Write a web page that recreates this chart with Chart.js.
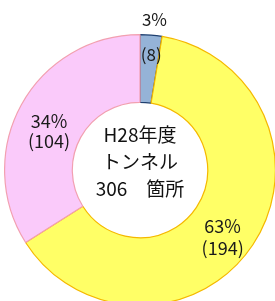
<!DOCTYPE html>
<html><head><meta charset="utf-8">
<script src="https://cdn.jsdelivr.net/npm/chart.js@4/dist/chart.umd.min.js"></script>
<style>
html,body{margin:0;padding:0;background:#fff;overflow:hidden;width:275px;height:301px;}
#wrap{position:absolute;left:4px;top:0px;width:272px;height:306px;}
</style></head><body>
<div id="wrap"><canvas id="c"></canvas></div>
<script>
const categories = ["A", "B", "C"];
const counts = [8, 194, 104];
const percents = ["3%", "63%", "34%"];
const centerLines = ["H28年度", "トンネル", "306\u3000箇所"];

const fills = ["#95B3D7", "#FFFF66", "#FACAFA"];
const borders = ["#1F3F6F", "#F5B800", "#F2A0B0"];
const FONT = '"Noto Sans CJK JP", "Noto Sans", sans-serif';

const labelPlugin = {
  id: 'lbl',
  afterDatasetsDraw(chart) {
    const ctx = chart.ctx;
    const meta = chart.getDatasetMeta(0);
    ctx.save();
    ctx.fillStyle = '#1a1a1a';
    ctx.textAlign = 'center';
    ctx.textBaseline = 'middle';
    ctx.font = '17px ' + FONT;
    meta.data.forEach((arc, i) => {
      const p = arc.getProps(['x','y','startAngle','endAngle','innerRadius','outerRadius'], true);
      const mid = (p.startAngle + p.endAngle) / 2;
      const rMid = (p.innerRadius + p.outerRadius) / 2;
      if (i === 0) {
        const rOut = p.outerRadius + 16;
        ctx.fillText(percents[i], p.x + Math.cos(mid) * rOut + 2, p.y + Math.sin(mid) * rOut);
        ctx.fillText('(' + counts[i] + ')', p.x + Math.cos(mid) * rMid + 3, p.y + Math.sin(mid) * rMid - 14);
      } else {
        ctx.font = '18px ' + FONT;
        const cx = p.x + Math.cos(mid) * rMid;
        const cy = p.y + Math.sin(mid) * rMid;
        const dy = i === 1 ? 11 : 10;
        const gap = i === 1 ? 11 : 10;
        ctx.fillText(percents[i], cx - 2, cy + dy - gap);
        ctx.fillText('(' + counts[i] + ')', cx - 2, cy + dy + gap);
      }
    });
    const c = meta.data[0];
    ctx.font = '19px ' + FONT;
    ctx.fillStyle = '#111';
    centerLines.forEach((t, k) => {
      ctx.fillText(t, c.x, c.y - 35 + k * 27);
    });
    ctx.restore();
  }
};

new Chart(document.getElementById('c'), {
  type: 'doughnut',
  data: {
    labels: categories,
    datasets: [{
      data: counts,
      backgroundColor: fills,
      borderColor: borders,
      borderWidth: 1.2,
    }]
  },
  options: {
    responsive: true,
    maintainAspectRatio: false,
    animation: false,
    cutout: '50%',
    layout: { padding: { top: 34, left: 0, right: 0, bottom: 0 } },
    plugins: { legend: { display: false }, tooltip: { enabled: false } }
  },
  plugins: [labelPlugin]
});
</script>
</body></html>
